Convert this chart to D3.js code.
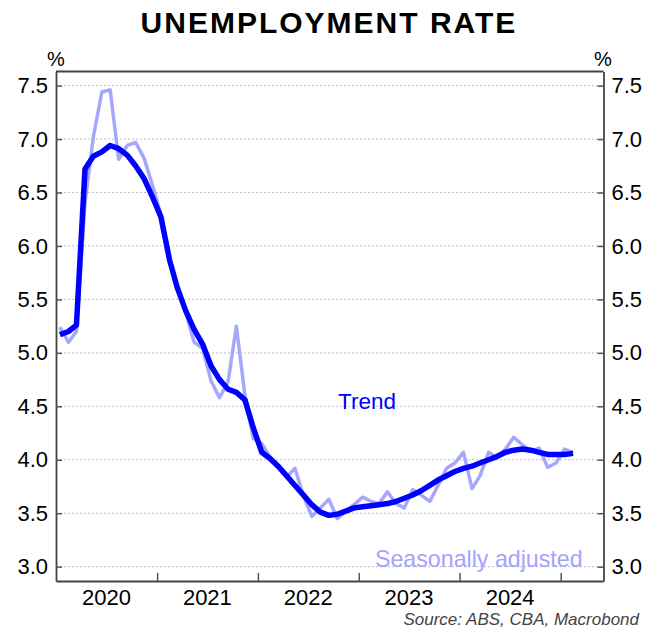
<!DOCTYPE html>
<html>
<head>
<meta charset="utf-8">
<script src="https://cdn.jsdelivr.net/npm/d3@7"></script>
<style>
    body { margin: 0; background: #fff; }
    svg { display: block; font-family: "Liberation Sans", Arial, sans-serif; }
</style>
</head>
<body>
<svg id="lienzo" width="656" height="631"></svg>
<script>

// Monthly data, Jan 2020 .. Feb 2025 (per cent)
const trendValues = [
    5.17, 5.20, 5.26, 6.72, 6.84, 6.88, 6.94, 6.91, 6.85, 6.75, 6.63, 6.46,   // 2020
    6.27, 5.87, 5.61, 5.39, 5.22, 5.08, 4.88, 4.75, 4.66, 4.63, 4.56, 4.30,   // 2021
    4.07, 4.01, 3.94, 3.85, 3.76, 3.67, 3.58, 3.51, 3.48, 3.49, 3.52, 3.55,   // 2022
    3.56, 3.57, 3.58, 3.59, 3.61, 3.64, 3.67, 3.71, 3.76, 3.81, 3.85, 3.89,   // 2023
    3.92, 3.94, 3.97, 4.00, 4.03, 4.07, 4.09, 4.10, 4.09, 4.07, 4.05, 4.05,   // 2024
    4.05, 4.06                                                                // 2025
];

const saValues = [
    5.24, 5.10, 5.20, 6.40, 7.02, 7.44, 7.46, 6.81, 6.94, 6.97, 6.82, 6.57,   // 2020
    6.29, 5.88, 5.62, 5.38, 5.10, 5.04, 4.74, 4.58, 4.73, 5.25, 4.60, 4.20,   // 2021
    4.15, 4.02, 3.95, 3.84, 3.92, 3.66, 3.47, 3.55, 3.63, 3.45, 3.52, 3.58,   // 2022
    3.65, 3.61, 3.59, 3.70, 3.59, 3.55, 3.72, 3.67, 3.61, 3.76, 3.92, 3.97,   // 2023
    4.07, 3.73, 3.85, 4.07, 4.02, 4.10, 4.21, 4.14, 4.08, 4.11, 3.93, 3.97,   // 2024
    4.10, 4.07                                                                // 2025
];

const months = d3.timeMonths(new Date(2020, 0, 1), new Date(2025, 2, 1));
const yTicks = [3.0, 3.5, 4.0, 4.5, 5.0, 5.5, 6.0, 6.5, 7.0, 7.5];
const yearLabels = [2020, 2021, 2022, 2023, 2024];

const svg = d3.select('#lienzo');

const plotLeft = 56, plotRight = 603.5, plotTop = 71.5, plotBottom = 581;

const x = d3.scaleTime()
    .domain([new Date(2020, 0, 1), new Date(2025, 5, 5)])
    .range([plotLeft, plotRight]);

const y = d3.scaleLinear()
    .domain([2.866, 7.632])
    .range([plotBottom, plotTop]);

// Gridlines (dotted)
svg.append('g')
    .selectAll('line')
    .data(yTicks)
    .enter()
    .append('line')
    .attr('x1', plotLeft)
    .attr('x2', plotRight)
    .attr('y1', d => y(d))
    .attr('y2', d => y(d))
    .attr('stroke', '#bdbdbd')
    .attr('stroke-width', 1)
    .attr('stroke-dasharray', '2,2');

// Axes
const fmt = d3.format('.1f');

const leftAxis = svg.append('g')
    .attr('transform', `translate(${plotLeft},0)`)
    .call(d3.axisLeft(y).tickValues(yTicks).tickFormat(fmt)
        .tickSizeInner(-6).tickSizeOuter(0).tickPadding(8));

const rightAxis = svg.append('g')
    .attr('transform', `translate(${plotRight},0)`)
    .call(d3.axisRight(y).tickValues(yTicks).tickFormat(fmt)
        .tickSizeInner(-6).tickSizeOuter(0).tickPadding(8));

const bottomAxis = svg.append('g')
    .attr('transform', `translate(0,${plotBottom})`)
    .call(d3.axisBottom(x)
        .tickValues(d3.range(2021, 2026).map(yr => new Date(yr, 0, 1)))
        .tickFormat('')
        .tickSizeInner(-8).tickSizeOuter(0));

[leftAxis, rightAxis, bottomAxis].forEach(ax => {
    ax.select('.domain').attr('stroke', '#444').attr('stroke-width', 1.8);
    ax.selectAll('.tick line').attr('stroke', '#555').attr('stroke-width', 1.5);
    ax.selectAll('.tick text')
        .attr('font-size', '22px')
        .attr('font-family', '"Liberation Sans", Arial, sans-serif')
        .attr('fill', '#000');
});

// top border of the frame
svg.append('line')
    .attr('x1', plotLeft).attr('x2', plotRight)
    .attr('y1', plotTop).attr('y2', plotTop)
    .attr('stroke', '#444')
    .attr('stroke-width', 1.8);

// Year labels centred in each year
svg.append('g')
    .selectAll('text')
    .data(yearLabels)
    .enter()
    .append('text')
    .attr('x', d => x(new Date(d, 6, 2)))
    .attr('y', 605)
    .attr('text-anchor', 'middle')
    .attr('font-size', '22px')
    .text(d => d);

// Lines
const saData = months.map((m, i) => ({ date: d3.timeDay.offset(m, 14), value: saValues[i] }));
const trendData = months.map((m, i) => ({ date: d3.timeDay.offset(m, 14), value: trendValues[i] }));

const line = d3.line()
    .x(d => x(d.date))
    .y(d => y(d.value));

svg.append('path')
    .datum(saData)
    .attr('d', line)
    .attr('fill', 'none')
    .attr('stroke', '#a6a6ff')
    .attr('stroke-width', 3.5)
    .attr('stroke-linejoin', 'round');

svg.append('path')
    .datum(trendData)
    .attr('d', line)
    .attr('fill', 'none')
    .attr('stroke', '#0000ff')
    .attr('stroke-width', 5.5)
    .attr('stroke-linejoin', 'round');

// Series labels
svg.append('text')
    .attr('x', 338)
    .attr('y', 409)
    .attr('font-size', '22.5px')
    .attr('fill', '#0000ff')
    .text('Trend');

svg.append('text')
    .attr('x', 375)
    .attr('y', 567)
    .attr('font-size', '23.2px')
    .attr('fill', '#a3a3ff')
    .text('Seasonally adjusted');

// Title, units and source
svg.append('text')
    .attr('x', 329)
    .attr('y', 33)
    .attr('text-anchor', 'middle')
    .attr('font-size', '30px')
    .attr('font-weight', 'bold')
    .attr('letter-spacing', '2px')
    .text('UNEMPLOYMENT RATE');

svg.append('text')
    .attr('x', 56)
    .attr('y', 66)
    .attr('text-anchor', 'middle')
    .attr('font-size', '20px')
    .text('%');

svg.append('text')
    .attr('x', 603)
    .attr('y', 66)
    .attr('text-anchor', 'middle')
    .attr('font-size', '20px')
    .text('%');

svg.append('text')
    .attr('x', 639)
    .attr('y', 625)
    .attr('text-anchor', 'end')
    .attr('font-size', '17px')
    .attr('font-style', 'italic')
    .attr('fill', '#444')
    .text('Source: ABS, CBA, Macrobond');

</script>
</body>
</html>
